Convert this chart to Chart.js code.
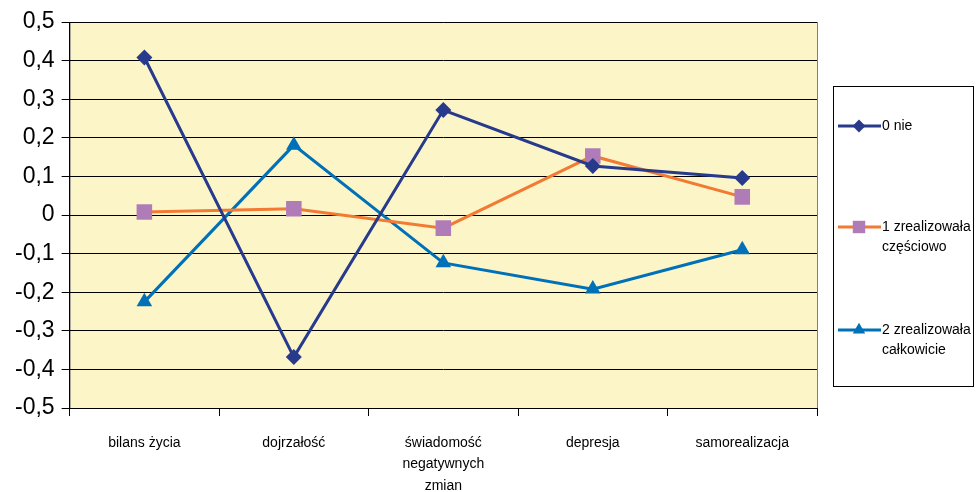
<!DOCTYPE html>
<html><head><meta charset="utf-8">
<script src="https://cdn.jsdelivr.net/npm/chart.js@4"></script>
<style>html,body{margin:0;padding:0;background:#fff;}#wrap{width:976px;height:492px;position:relative;}</style>
</head><body><div id="wrap"><canvas id="c" width="976" height="492"></canvas></div>
<script>
const categories = [['bilans życia'], ['dojrzałość'], ['świadomość','negatywnych','zmian'], ['depresja'], ['samorealizacja']];
const seriesNames = [['0 nie'], ['1 zrealizowała','częściowo'], ['2 zrealizowała','całkowicie']];
const s0 = [0.408, -0.368, 0.272, 0.127, 0.096];
const s1 = [0.008, 0.016, -0.034, 0.153, 0.047];
const s2 = [-0.225, 0.181, -0.124, -0.192, -0.090];
const yTickLabels = ['-0,5','-0,4','-0,3','-0,2','-0,1','0','0,1','0,2','0,3','0,4','0,5'];

const lineColors = ['#283A8C', '#F37A32', '#0070B8'];
const markerColors = ['#283A8C', '#B07CB8', '#0070B8'];
const markerStyles = ['rectRot', 'rect', 'triangle'];
const markerSizes = [8, 11, 9];

const bgPlugin = {
  id: 'bg',
  beforeDraw(chart) {
    const {ctx, chartArea: a} = chart;
    ctx.save();
    ctx.fillStyle = '#FBF5C8';
    ctx.fillRect(a.left, a.top, a.right - a.left, a.bottom - a.top);
    ctx.strokeStyle = '#808080';
    ctx.lineWidth = 1;
    ctx.strokeRect(a.left + 0.5, a.top + 0.5, a.right - a.left, a.bottom - a.top);
    ctx.restore();
  }
};

const legendPlugin = {
  id: 'boxLegend',
  afterDraw(chart) {
    const ctx = chart.ctx;
    ctx.save();
    ctx.strokeStyle = '#000';
    ctx.lineWidth = 1;
    ctx.strokeRect(833.5, 86.5, 140, 300);
    const ys = [126, 227, 330];
    ctx.font = '14px "Liberation Sans", Arial, sans-serif';
    ctx.textBaseline = 'middle';
    for (let i = 0; i < 3; i++) {
      const y = ys[i];
      ctx.strokeStyle = lineColors[i];
      ctx.lineWidth = 3;
      ctx.beginPath(); ctx.moveTo(838, y); ctx.lineTo(881, y); ctx.stroke();
      ctx.fillStyle = markerColors[i];
      ctx.strokeStyle = markerColors[i];
      Chart.helpers.drawPoint(ctx, {pointStyle: markerStyles[i], radius: markerSizes[i] * 0.8, borderWidth: 0}, 859, y);
      ctx.fillStyle = '#000';
      seriesNames[i].forEach((t, k) => ctx.fillText(t, 882, y + k * 20));
    }
    ctx.restore();
  }
};

const datasets = [s0, s1, s2].map((d, i) => ({
  label: seriesNames[i].join(' '),
  data: d,
  borderColor: lineColors[i],
  backgroundColor: markerColors[i],
  pointBackgroundColor: markerColors[i],
  pointBorderColor: markerColors[i],
  pointBorderWidth: 0,
  pointStyle: markerStyles[i],
  pointRadius: markerSizes[i],
  borderWidth: 3,
  tension: 0,
  fill: false
}));

new Chart(document.getElementById('c'), {
  type: 'line',
  data: { labels: categories, datasets },
  plugins: [bgPlugin, legendPlugin],
  options: {
    responsive: false,
    animation: false,
    devicePixelRatio: 1,
    layout: { padding: { left: 8, right: 159, top: 22, bottom: 0 } },
    plugins: { legend: { display: false }, tooltip: { enabled: false } },
    scales: {
      x: {
        offset: true,
        afterFit(scale) { scale.height = 84; },
        grid: { offset: true, drawOnChartArea: false, color: '#000', tickLength: 8, lineWidth: 1 },
        border: { color: '#000', width: 1 },
        ticks: { color: '#000', font: { family: '"Liberation Sans Narrow", "Liberation Sans", Arial', size: 14, lineHeight: 1.55 }, padding: 16, maxRotation: 0, autoSkip: false }
      },
      y: {
        min: -0.5, max: 0.5,
        grid: { color: '#000', lineWidth: 1, tickLength: 8 },
        border: { color: '#000', width: 1 },
        ticks: {
          stepSize: 0.1,
          color: '#000',
          padding: 7,
          font: { family: '"Liberation Sans", Arial', size: 23 },
          callback: (v, idx) => yTickLabels[idx]
        }
      }
    }
  }
});
</script></body></html>
